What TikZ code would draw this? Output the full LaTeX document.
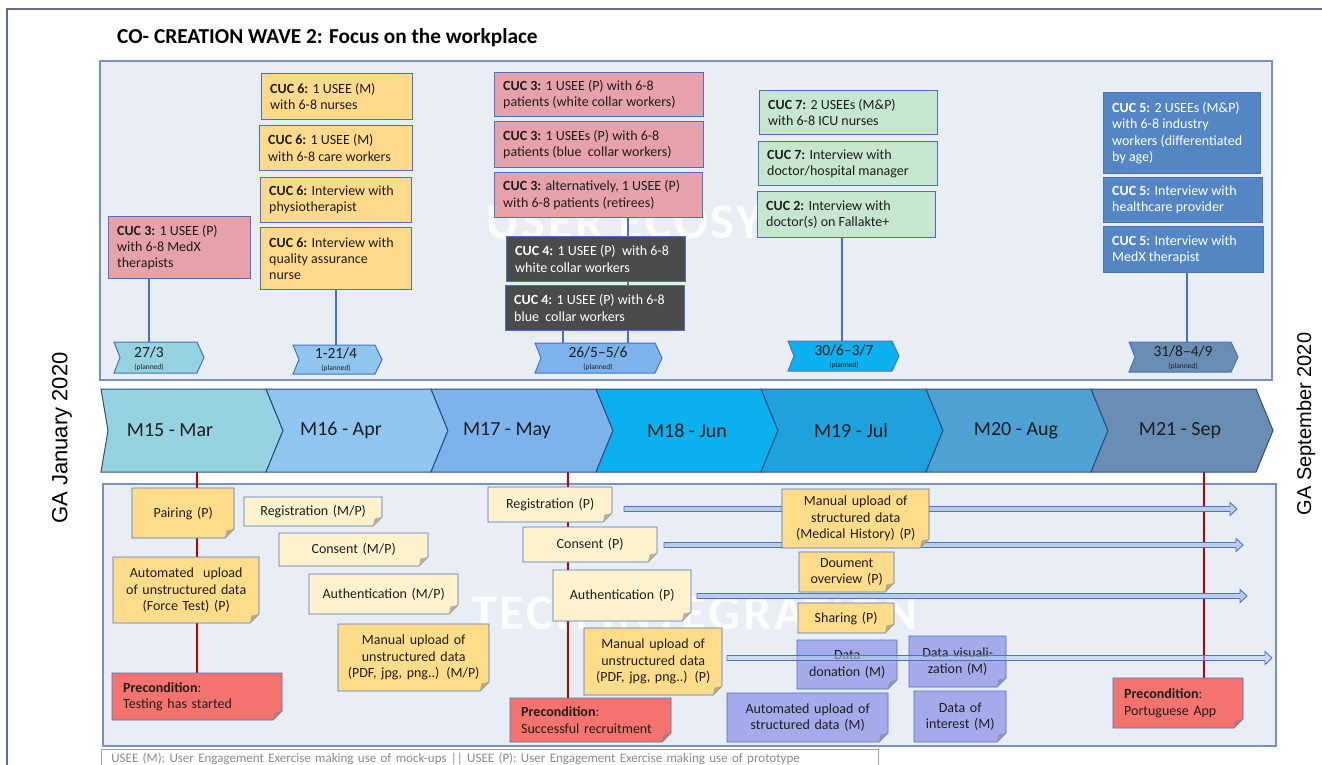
\documentclass[tikz,border=0pt]{standalone}
\usepackage{fontspec}
\setmainfont{Carlito}
\newfontfamily\sidefont{Liberation Sans}
\newfontfamily\wmfont[LetterSpace=6]{Carlito}
\usetikzlibrary{calc}
\pgfdeclarelayer{bg}
\pgfdeclarelayer{wm}
\pgfdeclarelayer{lines}
\pgfdeclarelayer{top}
\pgfsetlayers{bg,wm,lines,main,top}

\definecolor{pinkc}{HTML}{E6A1AA}
\definecolor{yelc}{HTML}{FFDA8C}
\definecolor{greenc}{HTML}{C7E6CF}
\definecolor{darkc}{HTML}{4B4B4B}
\definecolor{bluec}{HTML}{5486C3}
\definecolor{bordc}{HTML}{4A72C0}
\definecolor{noteY}{HTML}{FFDC8A}
\definecolor{noteL}{HTML}{FFF2CD}
\definecolor{noteP}{HTML}{A5ABEA}
\definecolor{noteR}{HTML}{F5736E}
\definecolor{panelF}{HTML}{E9EEF4}
\definecolor{panelD}{HTML}{7D90B8}
\definecolor{connc}{HTML}{4472C4}
\definecolor{redc}{HTML}{C00000}
\definecolor{arrowF}{HTML}{B9CCEB}
\definecolor{arrowD}{HTML}{4F74BF}
\definecolor{chA}{HTML}{94D3DF}
\definecolor{chB}{HTML}{8FC5EF}
\definecolor{chC}{HTML}{7DB3EC}
\definecolor{chD}{HTML}{0BB0EE}
\definecolor{chE}{HTML}{1EA2DD}
\definecolor{chF}{HTML}{50A1D3}
\definecolor{chG}{HTML}{6A8DB3}
\definecolor{chDraw}{HTML}{2F4D7E}
\definecolor{framec}{HTML}{5F6F8A}
\definecolor{legc}{HTML}{8A8A8A}
\definecolor{txtc}{HTML}{1E1E1E}

\newcommand\fsz[2]{\fontsize{#1}{#2}\selectfont}

\tikzset{
  cucst/.style={draw=bordc, line width=1pt, anchor=north west, inner sep=0pt},
  cuctxt/.style={anchor=west, align=left, inner sep=0pt, font=\fsz{14}{16.3}},
  notebord/.style={draw=bordc, line width=0.9pt},
  notest/.style={anchor=north west, inner xsep=7pt, inner ysep=2pt,
    font=\fsz{14}{16.5}, text=txtc},
  arrst/.style={draw=arrowD, line width=0.9pt, fill=arrowF},
  chevst/.style={draw=chDraw, line width=1pt},
  flagst/.style={draw=bordc, line width=1pt},
  flagtxt/.style={align=center, inner sep=0pt, text=txtc},
  tltxt/.style={minimum height=83pt, inner sep=0pt, font=\fsz{20}{24}, text=txtc},
  conn/.style={draw=connc, line width=2pt},
  redline/.style={draw=redc, line width=2pt},
  panelst/.style={fill=panelF, draw=panelD, line width=1.4pt},
  wmst/.style={text=white, opacity=0.9, inner sep=0pt, font=\wmfont\bfseries\fsz{50}{54}}
}

\newcommand\cucbox[8]{%
  \pgfmathsetmacro\cbW{#4-#2}\pgfmathsetmacro\cbH{#5-#3}%
  \node[cucst, fill=#6, minimum width=\cbW pt, minimum height=\cbH pt] (#1) at (#2,#3) {};
  \node[cuctxt, text=#7] (#1-t) at ([xshift=9pt]#1.west) {#8};}

\newcommand\notebox[8]{%
  \pgfmathsetmacro\nbW{#4-#2}\pgfmathsetmacro\nbH{#5-#3}\pgfmathsetmacro\nbT{#4-#2-14}%
  \filldraw[notebord, fill=#6] (#2,#3) -- (#4,#3) -- (#4,{#5-9}) -- ({#4-9},#5) -- (#2,#5) -- cycle;
  \fill[#6!45!gray] (#4,{#5-9}) -- ({#4-9},#5) -- ({#4-7.5},{#5-7.5}) -- cycle;
  \node[notest, #7, minimum width=\nbW pt, minimum height=\nbH pt, text width=\nbT pt] (#1) at (#2,#3) {#8};}

\newcommand\blockarrow[3]{%
  \draw[arrst, fill opacity=#3] ($(#1)+(0,-2.5)$) -- ($(#2)+(-7,-2.5)$) -- ($(#2)+(-7,-6.5)$) -- (#2)
    -- ($(#2)+(-7,6.5)$) -- ($(#2)+(-7,2.5)$) -- ($(#1)+(0,2.5)$) -- cycle;}

\newcommand\chevron[4]{%
  \filldraw[chevst, fill=#4] (#1,389) -- (#2,389) -- ({#2+17},430.5) -- (#2,472) -- (#1,472) -- ({#1+#3},430.5) -- cycle;}

\newcommand\flagshape[5]{%
  \pgfmathsetmacro\fgM{(#2+#4)/2}%
  \filldraw[flagst, fill=#5] (#1,#2) -- ({#3-7},#2) -- (#3,\fgM) -- ({#3-7},#4) -- (#1,#4) -- ({#1+6},\fgM) -- cycle;}

\begin{document}
\begin{tikzpicture}[x=1pt,y=-1pt]
\useasboundingbox (0,0) rectangle (1322,764);
\begin{pgfonlayer}{bg}
\fill[white] (0,0) rectangle (1322,764);
\draw[draw=framec, line width=1.6pt] (7,800) -- (7,9) -- (1360,9);
\draw[panelst] (100,61) rectangle (1272,380);
\draw[panelst] (103,484) rectangle (1276,746);
\end{pgfonlayer}
\begin{pgfonlayer}{wm}
\node[wmst] (wmuser) at (688,222) {USER ECOSYSTEM};
\node[wmst] (wmtech) at (695,613) {TECH INTEGRATION};
\end{pgfonlayer}

% title
\node[anchor=west, font=\bfseries\fsz{21.3}{25}, inner sep=0pt] (title) at (117,38) {CO- CREATION WAVE 2: Focus on the workplace};

% side labels
\node[rotate=90, font=\sidefont\fsz{22}{26}, inner sep=0pt] (gajan) at (62,438) {GA January 2020};
\node[rotate=90, font=\sidefont\fsz{20}{24}, inner sep=0pt] (gasep) at (1306,424) {GA September 2020};

% ---------- top panel boxes ----------
\cucbox{c3a}{108}{216}{250}{278}{pinkc}{txtc}{\textbf{CUC 3:} 1 USEE (P)\\with 6-8 MedX\\therapists}
\cucbox{c6a}{261}{73}{412}{119}{yelc}{txtc}{\textbf{CUC 6:} 1 USEE (M)\\with 6-8 nurses}
\cucbox{c6b}{259}{125}{412}{170}{yelc}{txtc}{\textbf{CUC 6:} 1 USEE (M)\\with 6-8 care workers}
\cucbox{c6c}{260}{177}{411}{222}{yelc}{txtc}{\textbf{CUC 6:} Interview with\\physiotherapist}
\cucbox{c6d}{260}{227}{411}{289}{yelc}{txtc}{\textbf{CUC 6:} Interview with\\quality assurance\\nurse}
\cucbox{c3b}{494}{72}{703}{116}{pinkc}{txtc}{\textbf{CUC 3:} 1 USEE (P) with 6-8\\patients (white collar workers)}
\cucbox{c3c}{494}{121}{703}{167}{pinkc}{txtc}{\textbf{CUC 3:} 1 USEEs (P) with 6-8\\patients (blue\ \ collar workers)}
\cucbox{c3d}{494}{172}{702}{217}{pinkc}{txtc}{\textbf{CUC 3:} alternatively, 1 USEE (P)\\with 6-8 patients (retirees)}
\cucbox{c4a}{506}{236}{685}{281}{darkc}{white}{\textbf{CUC 4:} 1 USEE (P)\ \ with 6-8\\white collar workers}
\cucbox{c4b}{505}{285}{684}{330}{darkc}{white}{\textbf{CUC 4:} 1 USEE (P) with 6-8\\blue\ \ collar workers}
\cucbox{c7a}{759}{90}{937}{134}{greenc}{txtc}{\textbf{CUC 7:} 2 USEEs (M\&P)\\with 6-8 ICU nurses}
\cucbox{c7b}{758}{141}{937}{185}{greenc}{txtc}{\textbf{CUC 7:} Interview with\\doctor/hospital manager}
\cucbox{c2}{757}{191}{935}{237}{greenc}{txtc}{\textbf{CUC 2:} Interview with\\doctor(s) on Fallakte+}
\cucbox{c5a}{1103}{92}{1260}{173}{bluec}{white}{\textbf{CUC 5:} 2 USEEs (M\&P)\\with 6-8 industry\\workers (differentiated\\by age)}
\cucbox{c5b}{1103}{177}{1262}{222}{bluec}{white}{\textbf{CUC 5:} Interview with\\healthcare provider}
\cucbox{c5c}{1103}{226}{1263}{272}{bluec}{white}{\textbf{CUC 5:} Interview with\\MedX therapist}

% flags
\flagshape{114}{342}{204}{373}{chA}
\flagshape{293}{345}{382}{374}{chB}
\flagshape{535}{343}{662}{373}{chC}
\flagshape{788}{341}{899}{371}{chD}
\flagshape{1129}{342}{1238}{372}{chG}
\node[flagtxt] (f1) at (149,359) {\fsz{15.5}{15}27/3\\\fsz{7.5}{8}(planned)};
\node[flagtxt] (f2) at (336,360) {\fsz{15.5}{15}1-21/4\\\fsz{7.5}{8}(planned)};
\node[flagtxt] (f3) at (598,359) {\fsz{15.5}{15}26/5--5/6\\\fsz{7.5}{8}(planned)};
\node[flagtxt] (f4) at (844,357) {\fsz{15.5}{15}30/6--3/7\\\fsz{7.5}{8}(planned)};
\node[flagtxt] (f5) at (1183,358) {\fsz{15.5}{15}31/8--4/9\\\fsz{7.5}{8}(planned)};
\coordinate (f1t) at (149,342);
\coordinate (f2t) at (336,345);
\coordinate (f3a) at (563,343);
\coordinate (f3b) at (628,343);
\coordinate (f4t) at (842,341);
\coordinate (f5t) at (1187,342);

\begin{pgfonlayer}{lines}
\draw[conn] (c3a.south -| f1t) -- (f1t);
\draw[conn] (c6d.south -| f2t) -- (f2t);
\draw[conn] (c3d.south -| f3b) -- (c4a.north -| f3b);
\draw[conn] (c4a.south -| f3b) -- (c4b.north -| f3b);
\draw[conn] (c4b.south -| f3a) -- (f3a);
\draw[conn] (c4b.south -| f3b) -- (f3b);
\draw[conn] (c2.south -| f4t) -- (f4t);
\draw[conn] (c5c.south -| f5t) -- (f5t);
\end{pgfonlayer}

% ---------- timeline ----------
\chevron{101}{266}{7}{chA}
\chevron{266}{431}{17}{chB}
\chevron{431}{596}{17}{chC}
\chevron{596}{761}{17}{chD}
\chevron{761}{926}{17}{chE}
\chevron{926}{1091}{17}{chF}
\chevron{1091}{1256}{17}{chG}
\node[tltxt] (m15) at (170,430.5) {M15 - Mar};
\node[tltxt] (m16) at (341,430.5) {M16 - Apr};
\node[tltxt] (m17) at (507,430.5) {M17 - May};
\node[tltxt] (m18) at (687,430.5) {M18 - Jun};
\node[tltxt] (m19) at (851,430.5) {M19 - Jul};
\node[tltxt] (m20) at (1016,430.5) {M20 - Aug};
\node[tltxt] (m21) at (1180,430.5) {M21 - Sep};

% ---------- bottom panel notes ----------
\notebox{pair}{132}{488}{234}{538}{noteY}{align=center}{Pairing (P)}
\notebox{regmp}{244}{497}{382}{526}{noteL}{align=center}{Registration (M/P)}
\notebox{conmp}{279}{533}{428}{566}{noteL}{align=center}{Consent (M/P)}
\notebox{autoun}{113}{557}{259}{623}{noteY}{align=center}{Automated\ \ upload\\of unstructured data\\(Force Test) (P)}
\notebox{authmp}{309}{574}{458}{614}{noteL}{align=center}{Authentication (M/P)}
\notebox{manmp}{338}{624}{489}{691}{noteY}{align=center}{Manual upload of\\unstructured data\\(PDF, jpg, png..) (M/P)}
\notebox{pre1}{112}{673}{282}{720}{noteR}{align=left, inner xsep=11pt}{\textbf{Precondition}:\\Testing has started}
\notebox{regp}{488}{487}{612}{522}{noteL}{align=center}{Registration (P)}
\notebox{conp}{523}{527}{657}{562}{noteL}{align=center}{Consent (P)}
\notebox{authp}{553}{570}{691}{621}{noteL}{align=center}{Authentication (P)}
\notebox{manp}{584}{628}{722}{695}{noteY}{align=center}{Manual upload of\\unstructured data\\(PDF, jpg, png..) (P)}
\notebox{pre2}{510}{698}{671}{742}{noteR}{align=left, inner xsep=11pt}{\textbf{Precondition}:\\Successful recruitment}
\notebox{medh}{782}{489}{929}{548}{noteY}{align=center}{Manual upload of\\structured data\\(Medical History) (P)}
\notebox{doc}{799}{552}{894}{592}{noteY}{align=center}{Doument\\overview (P)}
\notebox{shar}{798}{603}{894}{633}{noteY}{align=center}{Sharing (P)}
\notebox{don}{797}{640}{897}{689}{noteP}{align=center}{Data\\donation (M)}
\notebox{autost}{727}{693}{888}{742}{noteP}{align=center}{Automated upload of\\structured data (M)}
\notebox{vis}{909}{636}{1006}{687}{noteP}{align=center}{Data visuali-\\zation (M)}
\notebox{inter}{914}{691}{1006}{742}{noteP}{align=center}{Data of\\interest (M)}
\notebox{pre3}{1113}{678}{1243}{728}{noteR}{align=left, inner xsep=11pt}{\textbf{Precondition}:\\Portuguese App}

\coordinate (r1) at (197,0);
\coordinate (r2) at (568,0);
\coordinate (r3) at (1204,0);
\coordinate (a1s) at (624,509);  \coordinate (a1e) at (1237,509);
\coordinate (a2s) at (664,545);  \coordinate (a2e) at (1243,545);
\coordinate (a3s) at (697,596);  \coordinate (a3e) at (1247,596);
\coordinate (a4s) at (727,658);  \coordinate (a4e) at (1272,658);

\begin{pgfonlayer}{lines}
\draw[redline] (m15.south -| r1) -- (pre1.north -| r1);
\draw[redline] (m17.south -| r2) -- (pre2.north -| r2);
\draw[redline] (m21.south -| r3) -- (pre3.north -| r3);
\blockarrow{a1s}{a1e}{1}
\blockarrow{a2s}{a2e}{1}
\blockarrow{a3s}{a3e}{1}
\end{pgfonlayer}
\begin{pgfonlayer}{top}
\blockarrow{a4s}{a4e}{0.55}
\end{pgfonlayer}

% legend
\node[draw=legc!80, line width=0.8pt, anchor=north west, text width=757pt, align=left,
  inner xsep=10pt, inner ysep=1pt, minimum height=18pt, text=legc, font=\fsz{13}{15}] (legend) at (101,749)
  {USEE (M): User Engagement Exercise making use of mock-ups || USEE (P): User Engagement Exercise making use of prototype};
\end{tikzpicture}
\end{document}
